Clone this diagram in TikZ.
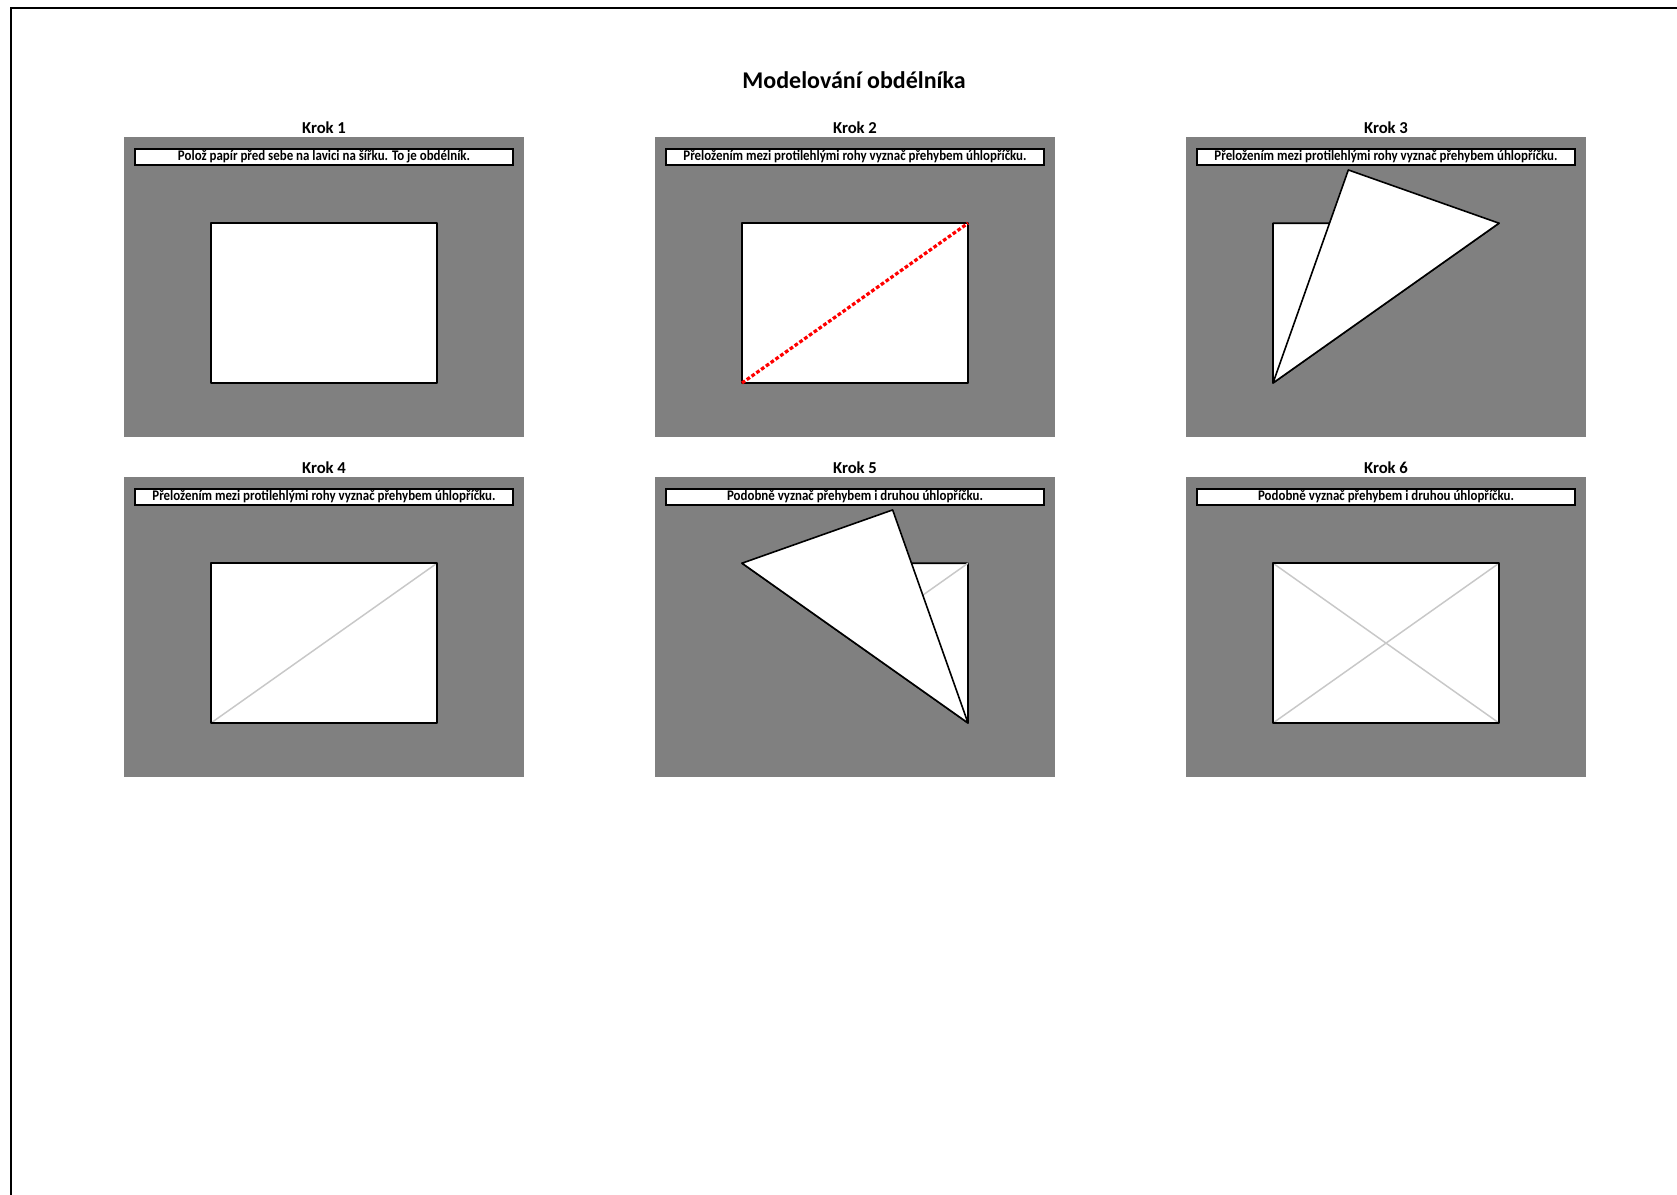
\documentclass[tikz,border=0pt]{standalone}
\usepackage{fontspec}
\setmainfont{Carlito}
\newfontfamily\capfont{Carlito}[FakeStretch=0.88]
\usetikzlibrary{calc}
\definecolor{panelGray}{RGB}{128,128,128}
\definecolor{creaseGray}{RGB}{200,200,200}
\definecolor{foldRed}{RGB}{255,0,0}
\tikzset{
  panel/.style={fill=panelGray},
  paper/.style={draw=black, fill=white, line width=1.2pt, line join=round},
  caption/.style={draw=black, fill=white, line width=1.4pt,
                  minimum width=283.5pt, minimum height=12pt, inner sep=0pt,
                  font=\capfont\bfseries\fontsize{11}{12}\selectfont},
  steplabel/.style={font=\bfseries\fontsize{12.5}{14}\selectfont},
  crease/.style={draw=creaseGray, line width=1.1pt},
  foldline/.style={draw=foldRed, line width=2.4pt, dash pattern=on 2.8pt off 1.6pt},
}

\begin{document}
\begin{tikzpicture}[x=0.75pt, y=-0.75pt]
  \useasboundingbox (0,0) rectangle (1677,1195);
  % page frame, only top and left edge show
  \draw[line width=1.8pt] (11,1195) -- (11,8) -- (1677,8);
  \node[font=\bfseries\fontsize{18}{21}\selectfont] (title) at (854,80)
    {Modelování obdélníka};
  % the six panels: gray backdrop, heading, caption strip, paper corners
  \foreach \i/\px/\py/\txt in {
      1/124/137/{Polož papír před sebe na lavici na šířku. To je obdélník.},
      2/655/137/{Přeložením mezi protilehlými rohy vyznač přehybem úhlopříčku.},
      3/1186/137/{Přeložením mezi protilehlými rohy vyznač přehybem úhlopříčku.},
      4/124/477/{Přeložením mezi protilehlými rohy vyznač přehybem úhlopříčku.},
      5/655/477/{Podobně vyznač přehybem i druhou úhlopříčku.},
      6/1186/477/{Podobně vyznač přehybem i druhou úhlopříčku.}} {
    \begin{scope}[shift={(\px,\py)}]
      \fill[panel] (0,0) rectangle (400,300);
      \node[steplabel] (krok\i) at (200,-9) {Krok \i};
      \node[caption, anchor=north] (cap\i) at (200,11) {\txt};
      \coordinate (bl\i) at (87,246);
      \coordinate (br\i) at (313,246);
      \coordinate (tr\i) at (313,86.2);
      \coordinate (tl\i) at (87,86.2);
    \end{scope}
  }
  % Krok 1: plain sheet
  \draw[paper] (bl1) rectangle (tr1);
  % Krok 2: fold line marked
  \draw[paper] (bl2) rectangle (tr2);
  \draw[foldline] (bl2) -- (tr2);
  % Krok 3: lower right half folded up over the diagonal
  \draw[paper] (bl3) -- (tl3) -- (tr3) -- cycle;
  \coordinate (f3) at ($(bl3)!(br3)!(tr3)$);
  \coordinate (a3) at ($(br3)!2!(f3)$);
  \draw[paper] (bl3) -- (a3) -- (tr3) -- cycle;
  % Krok 4: unfolded, crease left
  \fill[white] (bl4) rectangle (tr4);
  \draw[crease] (bl4) -- (tr4);
  \draw[paper, fill=none] (bl4) rectangle (tr4);
  % Krok 5: lower left half folded up over the other diagonal
  \draw[paper] (tl5) -- (tr5) -- (br5) -- cycle;
  \draw[crease] ($(bl5)!0.5!(tr5)$) -- (tr5);
  \coordinate (f5) at ($(tl5)!(bl5)!(br5)$);
  \coordinate (a5) at ($(bl5)!2!(f5)$);
  \draw[paper] (tl5) -- (a5) -- (br5) -- cycle;
  % Krok 6: both creases
  \fill[white] (bl6) rectangle (tr6);
  \draw[crease] (bl6) -- (tr6);
  \draw[crease] (tl6) -- (br6);
  \draw[paper, fill=none] (bl6) rectangle (tr6);
\end{tikzpicture}
\end{document}
